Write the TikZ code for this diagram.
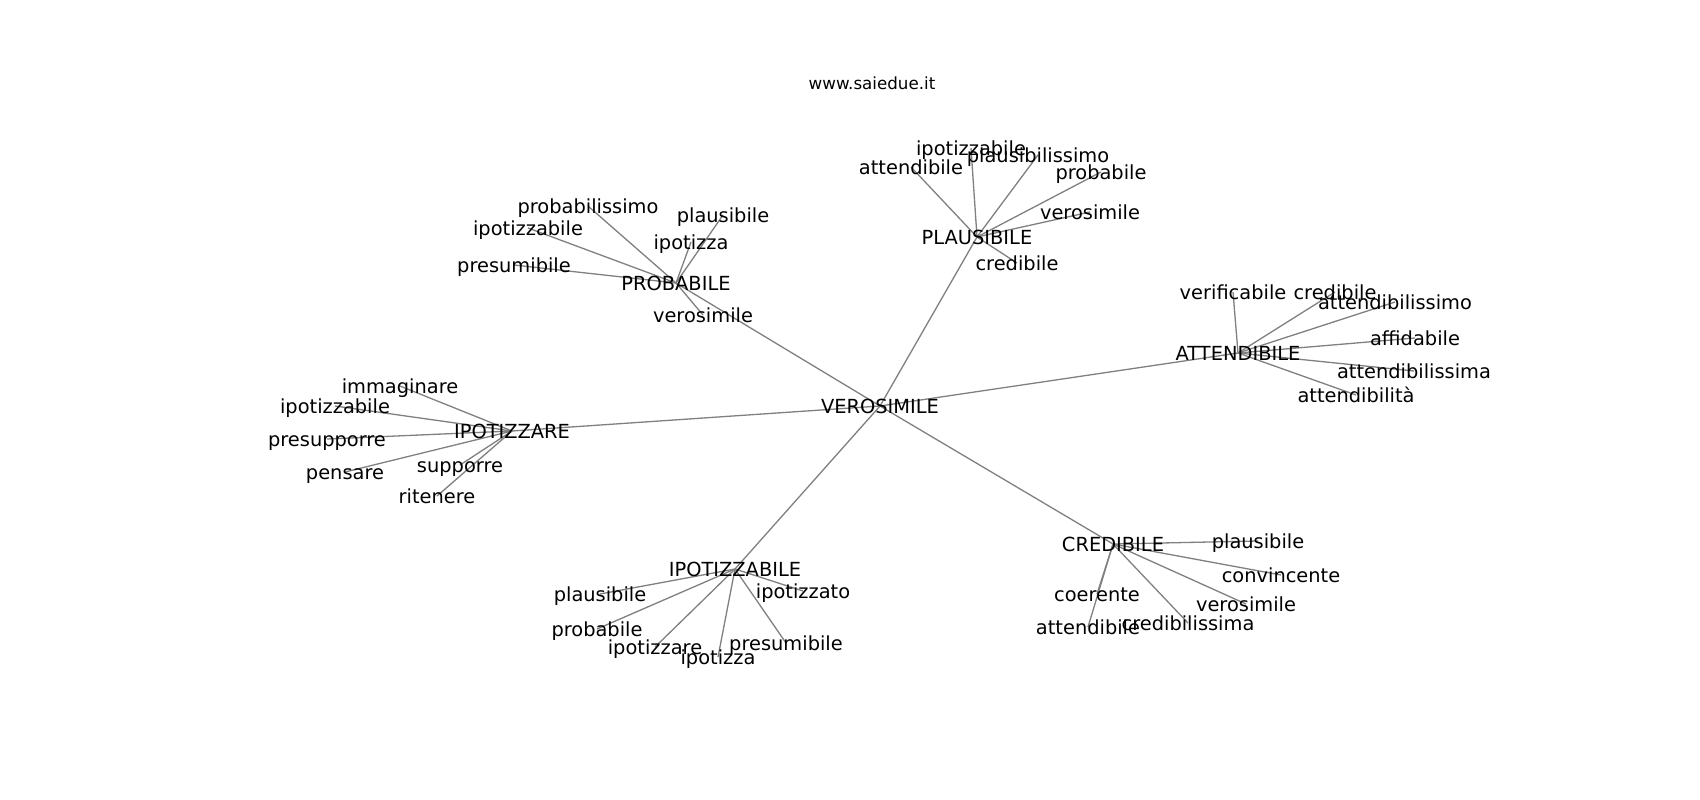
\documentclass[tikz,border=0pt]{standalone}
\usepackage{fontspec}
\setmainfont{DejaVu Sans}
\begin{document}
\begin{tikzpicture}[x=1pt,y=-1pt,
  lbl/.style={anchor=base,inner sep=0pt,yshift=-7pt,font=\fontsize{19.4}{20}\selectfont,text=black},
  ttl/.style={anchor=base,inner sep=0pt,yshift=-6pt,font=\fontsize{16.7}{18}\selectfont,text=black},
  edge/.style={draw=black!50,line width=1.3pt}]
\useasboundingbox[fill=white] (0,0) rectangle (1700,800);
% node positions
\coordinate (V) at (880,406);
\coordinate (PB) at (676,283);
\coordinate (PL) at (977,237);
\coordinate (AT) at (1238,353);
\coordinate (IZ) at (512,431);
\coordinate (IB) at (735,569);
\coordinate (CR) at (1113,544);
% PROBABILE leaves
\coordinate (pb1) at (588,206);
\coordinate (pb2) at (723,215);
\coordinate (pb3) at (528,228);
\coordinate (pb4) at (691,242);
\coordinate (pb5) at (514,265);
\coordinate (pb6) at (703,315);
% PLAUSIBILE leaves
\coordinate (pl1) at (971,148);
\coordinate (pl2) at (1038,155);
\coordinate (pl3) at (911,167);
\coordinate (pl4) at (1101,172);
\coordinate (pl5) at (1090,212);
\coordinate (pl6) at (1017,263);
% ATTENDIBILE leaves
\coordinate (at1) at (1233,292);
\coordinate (at2) at (1335,292);
\coordinate (at3) at (1395,302);
\coordinate (at4) at (1415,338);
\coordinate (at5) at (1414,371);
\coordinate (at6) at (1356,395);
% IPOTIZZARE leaves
\coordinate (iz1) at (400,386);
\coordinate (iz2) at (335,406);
\coordinate (iz3) at (327,439);
\coordinate (iz4) at (345,472);
\coordinate (iz5) at (460,465);
\coordinate (iz6) at (437,496);
% IPOTIZZABILE leaves
\coordinate (ib1) at (600,594);
\coordinate (ib2) at (803,591);
\coordinate (ib3) at (597,629);
\coordinate (ib4) at (655,647);
\coordinate (ib5) at (786,643);
\coordinate (ib6) at (718,657);
% CREDIBILE leaves
\coordinate (cr1) at (1258,541);
\coordinate (cr2) at (1281,575);
\coordinate (cr3) at (1097,594);
\coordinate (cr4) at (1246,604);
\coordinate (cr5) at (1088,627);
\coordinate (cr6) at (1188,623);
% edges
\foreach \h in {PB,PL,AT,IZ,IB,CR} \draw[edge] (V) -- (\h);
\foreach \l in {pb1,pb2,pb3,pb4,pb5,pb6} \draw[edge] (PB) -- (\l);
\foreach \l in {pl1,pl2,pl3,pl4,pl5,pl6} \draw[edge] (PL) -- (\l);
\foreach \l in {at1,at2,at3,at4,at5,at6} \draw[edge] (AT) -- (\l);
\foreach \l in {iz1,iz2,iz3,iz4,iz5,iz6} \draw[edge] (IZ) -- (\l);
\foreach \l in {ib1,ib2,ib3,ib4,ib5,ib6} \draw[edge] (IB) -- (\l);
\foreach \l in {cr1,cr2,cr3,cr4,cr5,cr6} \draw[edge] (CR) -- (\l);
% labels
\node[ttl] (title) at (872,83) {www.saiedue.it};
\node[lbl] (tV) at (V) {VEROSIMILE};
\node[lbl] (tPB) at (PB) {PROBABILE};
\node[lbl] (tPL) at (PL) {PLAUSIBILE};
\node[lbl] (tAT) at (AT) {ATTENDIBILE};
\node[lbl] (tIZ) at (IZ) {IPOTIZZARE};
\node[lbl] (tIB) at (IB) {IPOTIZZABILE};
\node[lbl] (tCR) at (CR) {CREDIBILE};
\node[lbl] (tpb1) at (pb1) {probabilissimo};
\node[lbl] (tpb2) at (pb2) {plausibile};
\node[lbl] (tpb3) at (pb3) {ipotizzabile};
\node[lbl] (tpb4) at (pb4) {ipotizza};
\node[lbl] (tpb5) at (pb5) {presumibile};
\node[lbl] (tpb6) at (pb6) {verosimile};
\node[lbl] (tpl1) at (pl1) {ipotizzabile};
\node[lbl] (tpl2) at (pl2) {plausibilissimo};
\node[lbl] (tpl3) at (pl3) {attendibile};
\node[lbl] (tpl4) at (pl4) {probabile};
\node[lbl] (tpl5) at (pl5) {verosimile};
\node[lbl] (tpl6) at (pl6) {credibile};
\node[lbl] (tat1) at (at1) {verificabile};
\node[lbl] (tat2) at (at2) {credibile};
\node[lbl] (tat3) at (at3) {attendibilissimo};
\node[lbl] (tat4) at (at4) {affidabile};
\node[lbl] (tat5) at (at5) {attendibilissima};
\node[lbl] (tat6) at (at6) {attendibilità};
\node[lbl] (tiz1) at (iz1) {immaginare};
\node[lbl] (tiz2) at (iz2) {ipotizzabile};
\node[lbl] (tiz3) at (iz3) {presupporre};
\node[lbl] (tiz4) at (iz4) {pensare};
\node[lbl] (tiz5) at (iz5) {supporre};
\node[lbl] (tiz6) at (iz6) {ritenere};
\node[lbl] (tib1) at (ib1) {plausibile};
\node[lbl] (tib2) at (ib2) {ipotizzato};
\node[lbl] (tib3) at (ib3) {probabile};
\node[lbl] (tib4) at (ib4) {ipotizzare};
\node[lbl] (tib5) at (ib5) {presumibile};
\node[lbl] (tib6) at (ib6) {ipotizza};
\node[lbl] (tcr1) at (cr1) {plausibile};
\node[lbl] (tcr2) at (cr2) {convincente};
\node[lbl] (tcr3) at (cr3) {coerente};
\node[lbl] (tcr4) at (cr4) {verosimile};
\node[lbl] (tcr5) at (cr5) {attendibile};
\node[lbl] (tcr6) at (cr6) {credibilissima};
\end{tikzpicture}
\end{document}
